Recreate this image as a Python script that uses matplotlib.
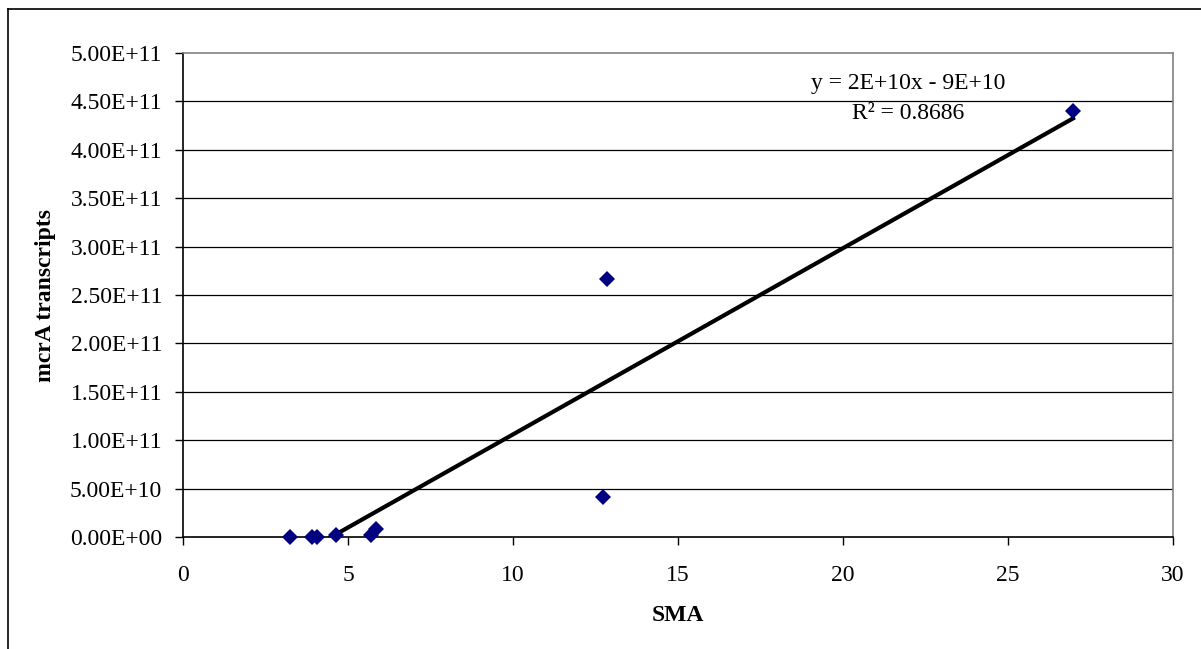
import matplotlib.pyplot as plt
from matplotlib.lines import Line2D
from matplotlib.ticker import FuncFormatter
import numpy as np

plt.rcParams['font.family'] = ['Liberation Serif', 'DejaVu Serif']

# data
sma = [3.24, 3.90, 4.05, 4.64, 5.70, 5.85, 12.72, 12.84, 26.97]
mcra = [0.0, 0.0, 0.0, 2e9, 2e9, 8e9, 4.13e10, 2.665e11, 4.40e11]
eq_text = "y = 2E+10x - 9E+10"
r2_text = "R\u00b2 = 0.8686"

fig = plt.figure(figsize=(12.01, 6.49), dpi=100)
ax = fig.add_axes([183/1201, 1 - 537/649, 990/1201, 484/649])

# outer chart frame (cut off at right and bottom)
fig.add_artist(Line2D([8/1201, 8/1201], [-0.1, 1 - 9/649], transform=fig.transFigure,
                      color='black', lw=1.2))
fig.add_artist(Line2D([8/1201, 1.1], [1 - 9/649, 1 - 9/649], transform=fig.transFigure,
                      color='black', lw=1.2))

# gridlines
for yv in np.arange(0.5e11, 5.0e11, 0.5e11):
    ax.axhline(yv, color='black', lw=0.9, zorder=1)

# linear trendline, clipped to the axis like Excel does
slope, icpt = np.polyfit(sma, mcra, 1)
xs = np.array([min(sma), max(sma)])
ax.plot(xs, slope * xs + icpt, color='black', lw=3.0, zorder=2)

ax.plot(sma, mcra, linestyle='none', marker='D', markersize=8.5,
        color='#000080', markeredgewidth=0, zorder=3, clip_on=False)

ax.set_xlim(0, 30)
ax.set_ylim(0, 5e11)
ax.set_xticks(np.arange(0, 31, 5))
ax.set_yticks(np.arange(0, 5.01e11, 0.5e11))
ax.yaxis.set_major_formatter(FuncFormatter(lambda v, p: '{:.2E}'.format(v)))

ax.tick_params(axis='both', direction='out', length=6, width=1, labelsize=17,
               colors='black')
ax.tick_params(axis='y', pad=9)
ax.tick_params(axis='x', pad=14)

for s in ['top', 'right']:
    ax.spines[s].set_color('#808080')
    ax.spines[s].set_linewidth(1.2)
for s in ['left', 'bottom']:
    ax.spines[s].set_color('black')
    ax.spines[s].set_linewidth(1.2)

ax.set_xlabel('SMA', fontsize=17, fontweight='bold', labelpad=14)
ax.set_ylabel('mcrA transcripts', fontsize=17, fontweight='bold', labelpad=10)

ax.text(21.97, 4.69e11, eq_text, ha='center', va='center', fontsize=17)
ax.text(21.97, 4.38e11, r2_text, ha='center', va='center', fontsize=17)

fig.savefig('out.png', dpi=100)
